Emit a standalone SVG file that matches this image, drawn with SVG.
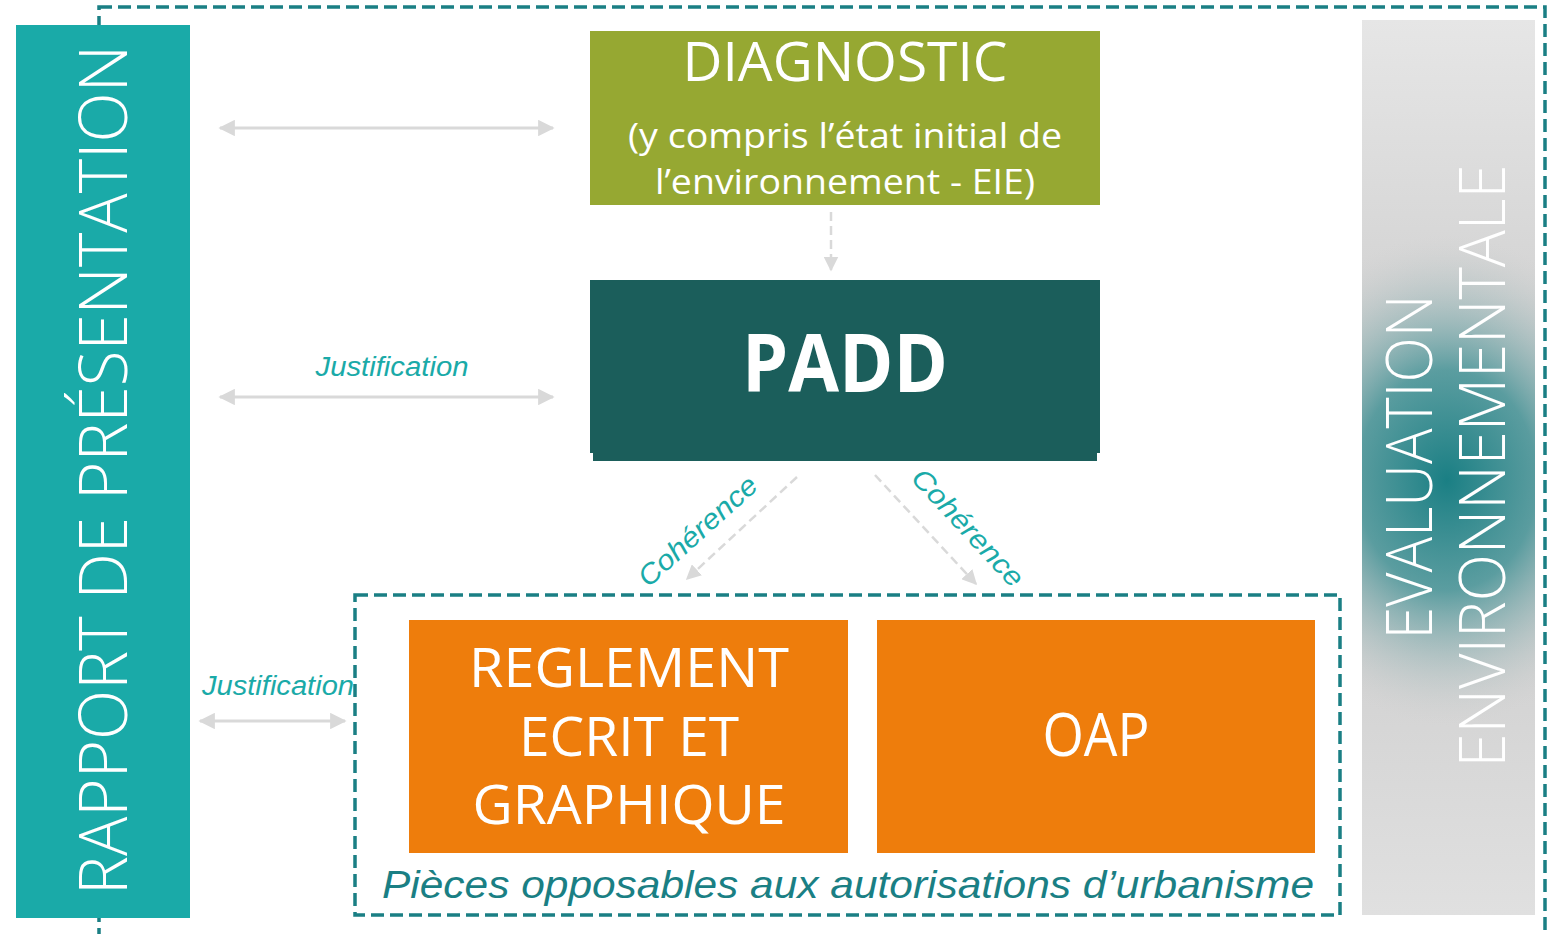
<svg xmlns="http://www.w3.org/2000/svg" width="1555" height="934" viewBox="0 0 1555 934">
<defs>
<style>
.dash{fill:none;stroke:#1a7f84;stroke-width:3.5;stroke-dasharray:13 6}
.conn{stroke:#d9d9d9;stroke-width:3;fill:none}
.dconn{stroke:#d9d9d9;stroke-width:2.5;fill:none;stroke-dasharray:9 5}
.lbl{font-family:"Liberation Sans",Arial,sans-serif;font-style:italic;fill:#1aaaa8}
.w{fill:#ffffff;font-family:"Open Sans","Liberation Sans",sans-serif}
</style>
<marker id="ah" viewBox="0 0 10 10" refX="9" refY="5" markerWidth="5.5" markerHeight="5.5" orient="auto-start-reverse" markerUnits="strokeWidth">
<path d="M0,0 L10,5 L0,10 z" fill="#d9d9d9"/>
</marker>
<marker id="ah2" viewBox="0 0 10 10" refX="9" refY="5" markerWidth="6" markerHeight="6" orient="auto" markerUnits="strokeWidth">
<path d="M0,0 L10,5 L0,10 z" fill="#d9d9d9"/>
</marker>
<linearGradient id="gbase" x1="0" y1="0" x2="0" y2="1">
<stop offset="0" stop-color="#e6e6e6"/>
<stop offset="0.5" stop-color="#c8c8c8"/>
<stop offset="1" stop-color="#e0e0e0"/>
</linearGradient>
<radialGradient id="gteal" gradientUnits="userSpaceOnUse" cx="0" cy="0" r="1" gradientTransform="translate(1447,480) scale(200,245)">
<stop offset="0" stop-color="#1a7f84" stop-opacity="1"/>
<stop offset="0.45" stop-color="#2e8a8e" stop-opacity="0.72"/>
<stop offset="1" stop-color="#c8c8c8" stop-opacity="0"/>
</radialGradient>
</defs>

<rect class="dash" x="99" y="7" width="1446" height="940"/>

<g id="rapport">
<rect x="16" y="25" width="174" height="893" fill="#1aaaa8"/>
<text class="w" transform="translate(127,470) rotate(-90)" text-anchor="middle" font-size="66" font-weight="300" textLength="850" lengthAdjust="spacingAndGlyphs">RAPPORT DE PRÉSENTATION</text>
</g>

<g id="evaluation">
<rect x="1362" y="20" width="173" height="895" fill="url(#gbase)"/>
<rect x="1362" y="20" width="173" height="895" fill="url(#gteal)"/>
<text class="w" transform="translate(1432,467) rotate(-90)" text-anchor="middle" font-size="64" font-weight="300" textLength="345" lengthAdjust="spacingAndGlyphs">EVALUATION</text>
<text class="w" transform="translate(1505,466) rotate(-90)" text-anchor="middle" font-size="64" font-weight="300" textLength="603" lengthAdjust="spacingAndGlyphs">ENVIRONNEMENTALE</text>
</g>

<g id="diagnostic">
<rect x="590" y="31" width="510" height="174" fill="#96a832"/>
<text class="w" x="845" y="81" text-anchor="middle" font-size="54" textLength="325" lengthAdjust="spacingAndGlyphs">DIAGNOSTIC</text>
<text class="w" x="845" y="148" text-anchor="middle" font-size="35" textLength="434" lengthAdjust="spacingAndGlyphs">(y compris l’état initial de</text>
<text class="w" x="845" y="194" text-anchor="middle" font-size="35" textLength="380" lengthAdjust="spacingAndGlyphs">l’environnement - EIE)</text>
</g>

<g id="padd">
<rect x="593" y="440" width="504" height="21" fill="#1b5e5b"/>
<rect x="590" y="280" width="510" height="173" fill="#1b5e5b"/>
<text class="w" x="845" y="392" text-anchor="middle" font-size="80" font-weight="700" textLength="206" lengthAdjust="spacingAndGlyphs">PADD</text>
</g>

<g id="pieces">
<rect class="dash" x="355" y="595" width="985" height="320"/>
<text x="848" y="898" text-anchor="middle" font-family="'Liberation Sans',Arial,sans-serif" font-style="italic" font-size="38" fill="#1a7f84" textLength="932" lengthAdjust="spacingAndGlyphs">Pièces opposables aux autorisations d’urbanisme</text>
</g>

<g id="reglement">
<rect x="409" y="620" width="439" height="233" fill="#ee7d0c"/>
<text class="w" x="629" y="687" text-anchor="middle" font-size="54" textLength="320" lengthAdjust="spacingAndGlyphs">REGLEMENT</text>
<text class="w" x="629" y="756" text-anchor="middle" font-size="54" textLength="220" lengthAdjust="spacingAndGlyphs">ECRIT ET</text>
<text class="w" x="629" y="824" text-anchor="middle" font-size="54" textLength="313" lengthAdjust="spacingAndGlyphs">GRAPHIQUE</text>
</g>

<g id="oap">
<rect x="877" y="620" width="438" height="233" fill="#ee7d0c"/>
<text class="w" x="1096" y="756" text-anchor="middle" font-size="60" textLength="107" lengthAdjust="spacingAndGlyphs">OAP</text>
</g>

<g id="connectors">
<line class="conn" x1="220" y1="128" x2="553" y2="128" marker-start="url(#ah)" marker-end="url(#ah)"/>
<line class="conn" x1="220" y1="397" x2="553" y2="397" marker-start="url(#ah)" marker-end="url(#ah)"/>
<line class="conn" x1="200" y1="721" x2="345" y2="721" marker-start="url(#ah)" marker-end="url(#ah)"/>
<line class="dconn" x1="831" y1="212" x2="831" y2="270" marker-end="url(#ah2)"/>
<line class="dconn" x1="797" y1="477" x2="687" y2="579" marker-end="url(#ah2)"/>
<line class="dconn" x1="875" y1="475" x2="976" y2="584" marker-end="url(#ah2)"/>
<text class="lbl" x="392" y="376" text-anchor="middle" font-size="27" textLength="153" lengthAdjust="spacingAndGlyphs">Justification</text>
<text class="lbl" x="278" y="695" text-anchor="middle" font-size="27" textLength="152" lengthAdjust="spacingAndGlyphs">Justification</text>
<text class="lbl" font-style="normal" transform="translate(704,538) rotate(-42)" text-anchor="middle" font-size="28" textLength="150" lengthAdjust="spacingAndGlyphs">Cohérence</text>
<text class="lbl" font-style="normal" transform="translate(961,534) rotate(47)" text-anchor="middle" font-size="28" textLength="150" lengthAdjust="spacingAndGlyphs">Cohérence</text>
</g>
</svg>
